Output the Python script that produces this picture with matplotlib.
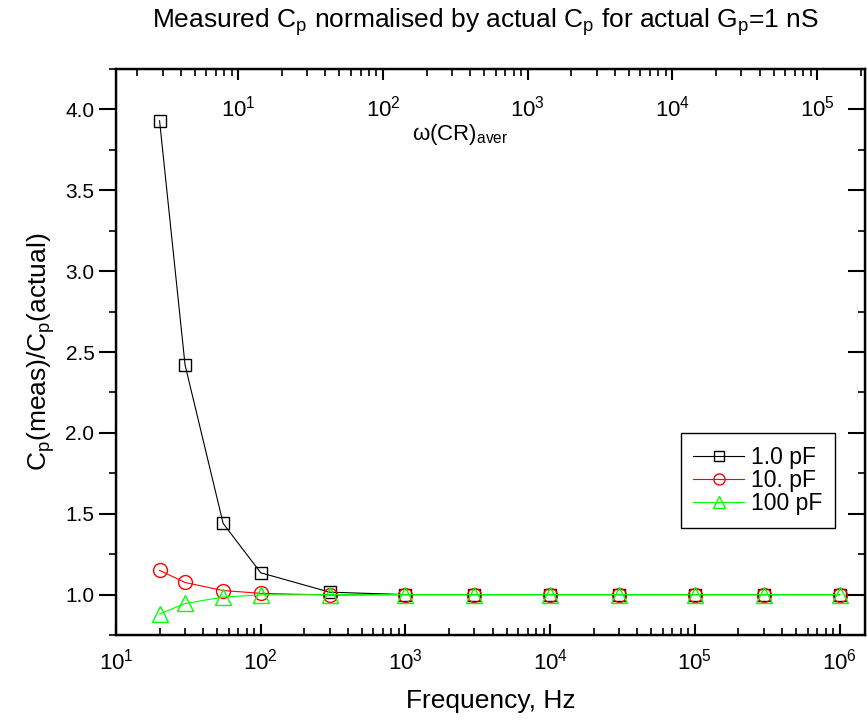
import matplotlib
matplotlib.use("Agg")
import matplotlib.pyplot as plt
from matplotlib.ticker import LogLocator, MultipleLocator, NullFormatter

plt.rcParams["font.family"] = ["Liberation Sans", "DejaVu Sans"]
plt.rcParams["mathtext.fontset"] = "custom"
plt.rcParams["mathtext.rm"] = "Liberation Sans"
plt.rcParams["mathtext.it"] = "Liberation Sans"

# frequencies (Hz)
freq = [20, 30, 55, 100, 300, 1e3, 3e3, 1e4, 3e4, 1e5, 3e5, 1e6]

# Cp(meas)/Cp(actual) for three actual capacitances
cp_1pF = [3.93, 2.42, 1.44, 1.135, 1.015, 1.0, 1.0, 1.0, 1.0, 1.0, 1.0, 1.0]
cp_10pF = [1.15, 1.075, 1.025, 1.008, 0.997, 1.0, 1.0, 1.0, 1.0, 1.0, 1.0, 1.0]
cp_100pF = [0.88, 0.945, 0.985, 0.998, 1.0, 1.0, 1.0, 1.0, 1.0, 1.0, 1.0, 1.0]

labels = ["1.0 pF", "10. pF", "100 pF"]

# omega(CR)_aver per Hz
omega_factor = 0.143

fig = plt.figure(figsize=(8.67, 7.28), dpi=100)
ax = fig.add_axes([0.1338, 0.1277, 0.864, 0.7775])

ax.plot(freq, cp_1pF, color="k", lw=0.8, marker="s", ms=9, mfc="none",
        mec="k", mew=1.0, label=labels[0])
ax.plot(freq, cp_10pF, color="#ff0000", lw=0.8, marker="o", ms=10, mfc="none",
        mec="#ff0000", mew=1.0, label=labels[1])
ax.plot(freq, cp_100pF, color="#00ff00", lw=0.8, marker="^", ms=11, mfc="none",
        mec="#00ff00", mew=1.0, label=labels[2])

ax.set_xscale("log")
ax.set_xlim(10, 1.5e6)
ax.set_ylim(0.75, 4.25)
ax.yaxis.set_major_locator(MultipleLocator(0.5))
ax.yaxis.set_minor_locator(MultipleLocator(0.25))
ax.yaxis.set_major_formatter(matplotlib.ticker.FormatStrFormatter("%.1f"))
ax.xaxis.set_major_locator(LogLocator(base=10, numticks=20))
ax.xaxis.set_minor_locator(LogLocator(base=10, subs=range(2, 10), numticks=20))
ax.xaxis.set_minor_formatter(NullFormatter())

for sp in ax.spines.values():
    sp.set_linewidth(1.6)

ax.tick_params(axis="x", which="major", direction="in", length=8, width=1.5,
               labelsize=16, pad=10)
ax.tick_params(axis="x", which="minor", direction="in", length=5, width=1.2)
ax.tick_params(axis="y", which="major", direction="out", length=12, width=1.5,
               labelsize=15, left=True, right=False)
ax.tick_params(axis="y", which="minor", direction="out", length=5, width=1.2)

# right-side inward ticks without labels
axr = ax.twinx()
axr.set_ylim(ax.get_ylim())
axr.yaxis.set_major_locator(MultipleLocator(0.5))
axr.yaxis.set_minor_locator(MultipleLocator(0.25))
axr.tick_params(axis="y", which="major", direction="in", length=12, width=1.5,
                labelright=False)
axr.tick_params(axis="y", which="minor", direction="in", length=5, width=1.2)

# top axis: omega(CR)_aver
axt = ax.twiny()
axt.set_xscale("log")
axt.set_xlim(10 * omega_factor, 1.5e6 * omega_factor)
axt.xaxis.set_major_locator(LogLocator(base=10, numticks=20))
axt.xaxis.set_minor_locator(LogLocator(base=10, subs=range(2, 10), numticks=20))
axt.xaxis.set_minor_formatter(NullFormatter())
axt.tick_params(axis="x", which="major", direction="in", length=8, width=1.5,
                labelsize=16, pad=-38)
axt.tick_params(axis="x", which="minor", direction="in", length=5, width=1.2)
for sp in axt.spines.values():
    sp.set_linewidth(1.6)
axt.text(0.46, 0.885, r"$\omega$(CR)$_\mathrm{aver}$", transform=ax.transAxes,
         ha="center", va="center", fontsize=16)

ax.set_xlabel("Frequency, Hz", fontsize=19, labelpad=10)
ax.set_ylabel(r"C$_\mathrm{p}$(meas)/C$_\mathrm{p}$(actual)", fontsize=19,
              labelpad=6)
fig.text(0.56, 0.97, r"Measured C$_\mathrm{p}$ normalised by actual C$_\mathrm{p}$"
         r" for actual G$_\mathrm{p}$=1 nS", ha="center", va="center", fontsize=19)

leg = ax.legend(loc="upper left", bbox_to_anchor=(0.754, 0.357), fontsize=16.5,
                handlelength=2.2, handletextpad=0.3, borderpad=0.55,
                labelspacing=0.02, borderaxespad=0, fancybox=False,
                framealpha=1, markerscale=0.8)
leg.get_frame().set_edgecolor("k")
leg.get_frame().set_linewidth(1.0)

fig.savefig("out.png", dpi=100)
